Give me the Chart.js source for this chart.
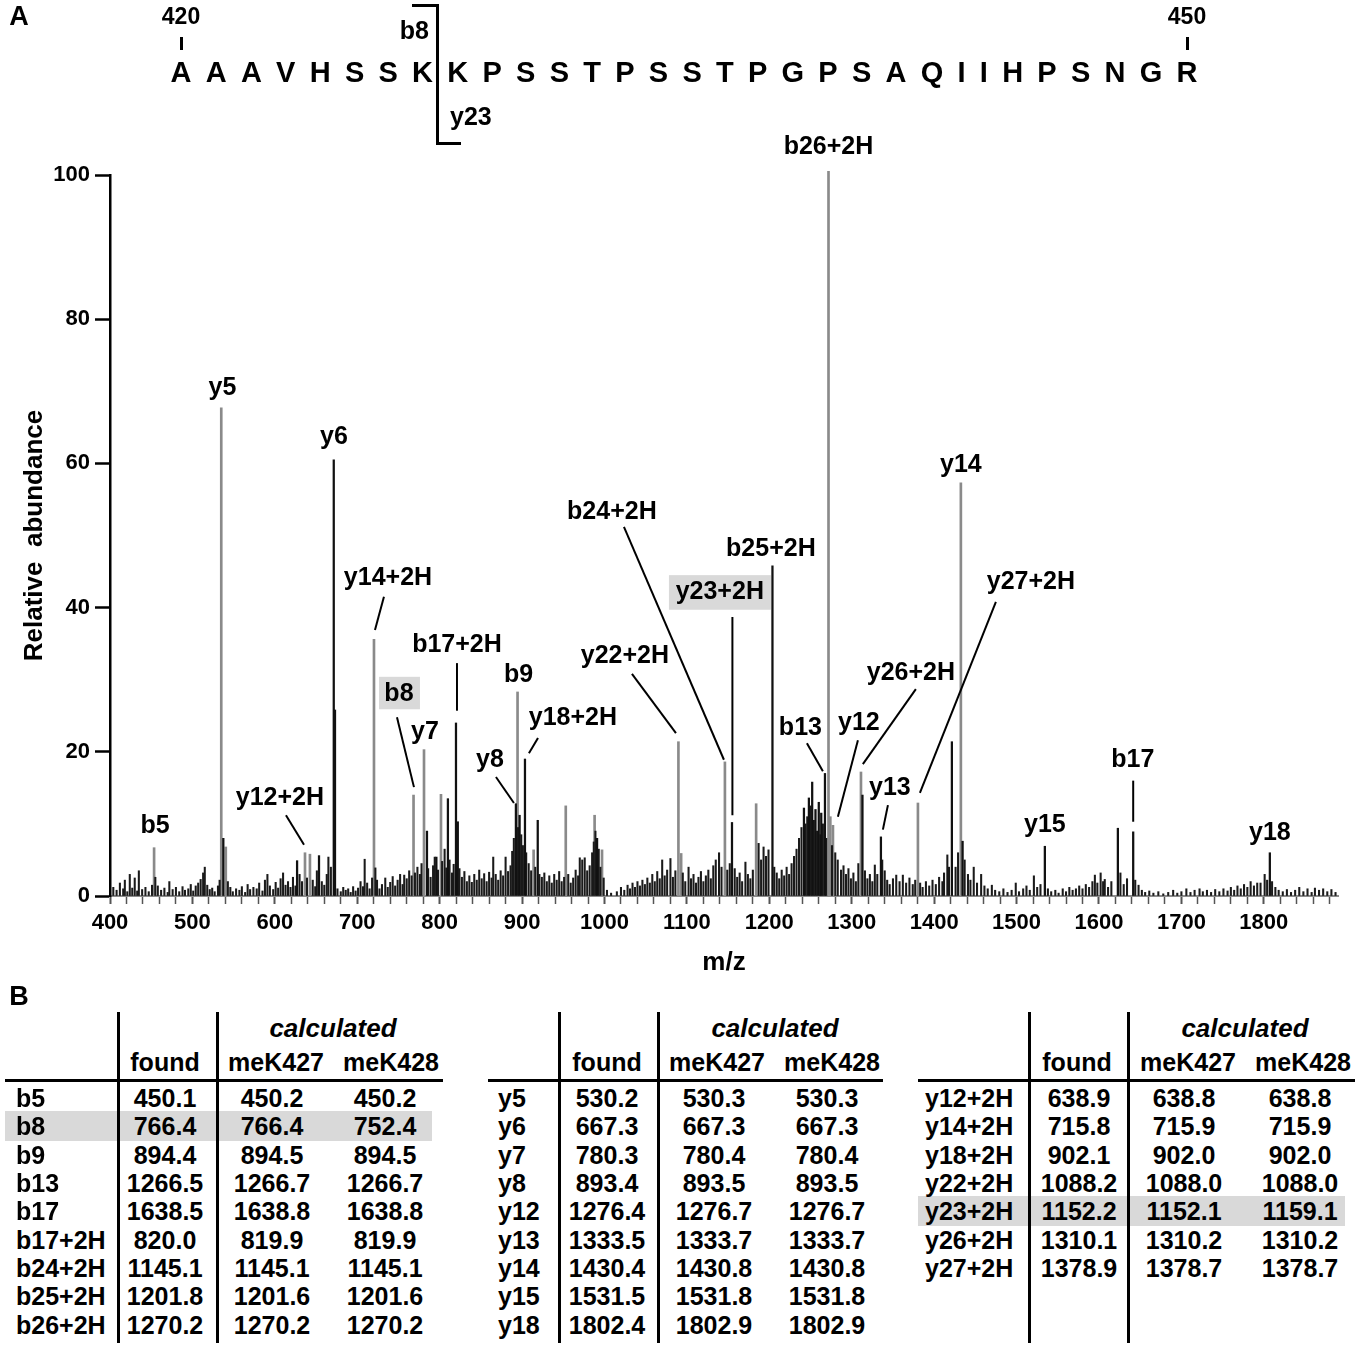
<!DOCTYPE html>
<html>
<head>
<meta charset="utf-8">
<script src="https://cdn.jsdelivr.net/npm/chart.js@4.4.1/dist/chart.umd.min.js"></script>
<style>
  body { margin: 0; background: #fff; }
  #wrap { position: relative; width: 1358px; height: 1345px; overflow: hidden;
          font-family: "Liberation Sans", Arial, sans-serif; font-weight: bold; color: #000; }
  #spec { position: absolute; left: 0; top: 0; }
  .c { position: absolute; white-space: pre; line-height: 1; transform: translate(-50%, -50%); }
  .l { position: absolute; white-space: pre; line-height: 1; transform: translateY(-50%); }
  .r { position: absolute; white-space: pre; line-height: 1; transform: translate(-100%, -50%); }
  .ln { position: absolute; background: #000; }
  .hl { position: absolute; background: #d9d9d9; }
</style>
</head>
<body>
<div id="wrap">
  <canvas id="spec" width="1358" height="990" style="width:1358px;height:990px"></canvas>
</div>
<script>
// peptide 420-450
const sequence = ['A','A','A','V','H','S','S','K','K','P','S','S','T','P','S','S','T','P','G','P','S','A','Q','I','I','H','P','S','N','G','R'];
const seqStart = 420, seqEnd = 450;

// labelled / prominent peaks (m/z, relative abundance), grey sticks
const grayMz = [453.5, 535, 540.5, 636.6, 642.6, 720.3, 768.3, 781, 801.6, 894.5, 914, 953, 988, 997,
                1089.7, 1093, 1146.1, 1184, 1271.8, 1274, 1277.2, 1311.2, 1380.3, 1432.4];
const grayAb = [6.7, 67.7, 6.8, 6.0, 5.8, 35.6, 14.0, 20.3, 14.1, 28.3, 6.4, 12.5, 11.2, 6.4,
                21.4, 5.9, 18.6, 12.8, 100.5, 11.0, 9.8, 17.2, 12.9, 57.3];

// prominent peaks drawn black
const blackMz = [537.5, 627, 653.6, 671.5, 673, 784.6, 796, 810, 819.8, 822, 892.5, 897, 903.5, 919, 991,
                 1154.7, 1203.8, 1242, 1248, 1252, 1256, 1260, 1263, 1267.5, 1313, 1335.4, 1421.5, 1434.5,
                 1534.3, 1622.9, 1641.5, 1807.3];
const blackAb = [8.0, 4.9, 5.6, 60.5, 25.8, 9.0, 5.4, 13.5, 24.0, 10.3, 12.8, 11.2, 19.0, 10.5, 8.0,
                 10.2, 45.8, 12.2, 13.6, 15.8, 12.0, 13.0, 11.5, 17.0, 14.0, 8.2, 21.4, 7.6,
                 6.9, 9.4, 8.9, 6.0];

// baseline noise, [m/z, abundance]
const noise400 = [[404,1.2],[408,0.8],[412,1.8],[416,1.0],[418,2.2],[421,0.6],[424,3.0],[427,1.1],[430,2.5],[433,0.7],
  [435,3.5],[439,0.9],[443,1.2],[447,0.6],[451,1.5],[455,2.6],[458,1.4],[462,0.8],[466,1.1],[470,0.5],[472,2.0],
  [476,0.9],[480,1.2],[484,0.6],[488,1.3],[491,0.8],[495,1.0],[498,1.6],[501,0.7],[504,1.4],[507,1.8],[510,2.3],
  [513,3.2],[515,4.0],[518,1.5],[521,0.9],[524,1.1],[527,0.6],[531,1.4],[533,2.2],[543,2.0],[546,1.2],[549,0.6],
  [553,1.0],[557,0.8],[560,1.3],[564,0.5],[567,1.6],[570,0.9],[574,1.2],[578,1.0],[581,1.8],[585,0.7],[588,2.2],
  [591,3.0],[594,1.4],[598,0.9],[601,1.9],[604,1.1],[607,2.4],[610,3.2],[613,1.5],[616,2.0],[619,1.2],[622,2.6],
  [625,1.4],[630,3.0],[633,2.0],[639,2.5],[646,2.2],[649,1.3],[651,3.5],[657,2.0],[660,1.5],[663,3.0],[665,5.4],
  [668,4.0],[676,1.0],[680,0.6],[683,1.2],[686,0.8],[689,1.0],[692,0.5],[695,1.3],[698,0.7]];
const noise700 = [[701,1.1],[704,2.0],[707,1.3],[709,5.1],[712,1.8],[715,1.0],[718,2.5],[722,3.9],[724,2.2],[727,1.0],
  [730,1.6],[734,2.5],[737,1.2],[740,1.9],[743,2.7],[746,1.4],[749,2.2],[752,3.0],[755,1.6],[757,2.9],[760,2.4],
  [763,3.5],[766,2.8],[770,3.2],[773,4.0],[776,3.0],[778,4.5],[786,3.8],[789,2.6],[792,4.2],[794,5.4],[798,3.6],
  [803,4.8],[806,6.5],[808,3.9],[812,5.0],[815,3.2],[817,4.4],[824,3.8],[827,2.6],[830,3.4],[833,2.0],[836,2.8],
  [839,1.9],[842,3.0],[845,2.2],[848,3.6],[851,2.4],[854,3.1],[857,2.0],[860,3.3],[863,2.5],[865,5.4],[868,3.0],
  [871,2.2],[874,3.5],[877,2.8],[880,5.4],[883,3.4],[886,4.2],[888,6.2],[890,8.0],[895,9.5],[899,8.5],[901,7.0],
  [905,6.0],[908,4.5],[911,3.5],[916,4.0],[921,3.0],[924,2.6],[927,3.2],[930,2.0],[933,2.8],[936,1.8],[939,3.0],
  [942,2.2],[945,3.4],[948,2.0],[951,2.6],[956,3.0],[959,1.8],[962,2.5],[965,3.6],[968,2.8],[970,5.3],[973,5.0],
  [976,5.3],[979,3.5],[982,4.2],[985,6.0],[987,7.5],[989,9.0],[993,6.5],[995,4.0],[999,2.5]];
const noise1000 = [[1003,0.8],[1008,0.4],[1015,0.6],[1020,1.2],[1024,0.8],[1028,1.5],[1031,1.0],[1034,1.8],[1037,1.2],
  [1040,2.0],[1043,1.4],[1046,2.2],[1049,1.6],[1052,2.5],[1055,1.8],[1058,3.0],[1061,2.0],[1064,3.4],[1067,2.4],
  [1070,5.0],[1073,2.8],[1076,3.6],[1080,5.2],[1083,2.6],[1086,3.5],[1095,3.2],[1098,2.0],[1102,4.0],[1105,2.4],
  [1108,3.0],[1111,1.8],[1114,2.6],[1117,3.4],[1120,2.0],[1123,2.8],[1126,3.6],[1129,2.4],[1132,4.2],[1135,5.0],
  [1139,6.0],[1142,4.0],[1149,3.6],[1152,4.5],[1158,3.8],[1161,2.6],[1164,3.2],[1167,2.0],[1171,4.7],[1174,3.0],
  [1177,2.4],[1180,3.6],[1187,7.3],[1190,5.0],[1193,6.8],[1196,5.5],[1199,6.4],[1206,4.0],[1209,3.2],[1212,2.4],
  [1215,3.6],[1218,2.8],[1221,4.0],[1224,3.0],[1227,4.5],[1230,5.5],[1233,6.5],[1236,8.0],[1239,9.5],[1244,10.0],
  [1246,11.0],[1250,12.5],[1254,10.5],[1258,9.0],[1262,8.5],[1265,10.0],[1269,8.0],[1276,7.0],[1280,6.0],[1283,5.0],
  [1287,3.6],[1290,4.2],[1293,3.0],[1296,3.8],[1299,2.4]];
const noise1300 = [[1302,3.2],[1305,2.0],[1308,4.5],[1316,3.5],[1319,2.4],[1322,3.0],[1325,2.0],[1328,4.3],[1331,3.0],
  [1337,5.0],[1340,3.5],[1343,2.2],[1346,1.6],[1350,2.4],[1354,2.9],[1358,2.0],[1362,2.9],[1366,1.8],[1370,2.5],
  [1374,1.6],[1377,2.2],[1383,1.8],[1386,1.2],[1390,2.0],[1394,1.4],[1398,2.2],[1402,1.6],[1406,2.6],[1410,2.0],
  [1412,3.2],[1416,5.7],[1418,4.0],[1426,4.0],[1429,6.0],[1437,5.0],[1441,3.0],[1444,2.2],[1448,4.0],[1452,1.8],
  [1457,3.0],[1461,1.4],[1465,1.0],[1470,1.5],[1474,0.8],[1479,0.6],[1484,1.0],[1489,0.5],[1494,0.8],[1499,1.8],
  [1503,0.6],[1508,1.0],[1512,1.4],[1516,0.8],[1521,2.8],[1525,1.2],[1529,1.6],[1538,1.0],[1542,0.6],[1547,0.8],
  [1551,0.4],[1556,1.0],[1560,0.6],[1564,1.2],[1568,0.8],[1572,1.0],[1576,1.4],[1580,1.0],[1584,1.6],[1588,1.2],
  [1592,2.0],[1595,2.9],[1598,1.8],[1602,3.2],[1605,2.0],[1607,2.3],[1611,1.2],[1615,2.0],[1626,3.2],[1630,1.6],
  [1634,2.4],[1644,2.2],[1648,1.5],[1652,0.8],[1656,0.5],[1661,0.7],[1666,0.4],[1672,0.6],[1678,0.3],[1684,0.5],
  [1690,0.8],[1695,0.4],[1700,0.6],[1706,1.0],[1711,0.5],[1716,0.8],[1722,1.0],[1726,0.6],[1731,0.8],[1736,0.5],
  [1741,0.9],[1746,0.6],[1751,1.0],[1756,0.7],[1760,1.2],[1764,0.8],[1768,1.4],[1772,1.0],[1776,1.6],[1780,1.2],
  [1784,2.0],[1788,1.4],[1792,1.8],[1796,1.8],[1801,3.0],[1804,2.2],[1810,2.0],[1814,1.2],[1818,0.8],[1823,0.6],
  [1828,0.9],[1833,0.5],[1838,0.8],[1843,1.2],[1848,0.6],[1853,1.0],[1858,0.5],[1862,1.1],[1867,0.8],[1872,1.0],
  [1877,0.6],[1882,0.9],[1887,0.5]];

// fragment labels: text, m/z, abundance of label centre
const peakLabels = [
  ['b5',454.6,9.7], ['y5',536.5,70.5], ['y12+2H',606.2,13.6], ['y6',671.8,63.7], ['y14+2H',737.3,44.1],
  ['b8',750.6,28.0], ['y7',782.2,22.7], ['b17+2H',821.0,34.8], ['b9',895.7,30.7], ['y18+2H',961.7,24.7],
  ['y8',861.0,18.9], ['y22+2H',1024.8,33.3], ['b24+2H',1009.0,53.3], ['y23+2H',1139.9,42.2],
  ['b25+2H',1201.9,48.1], ['b26+2H',1271.8,103.9], ['b13',1237.7,23.3], ['y12',1308.7,24.0],
  ['y26+2H',1371.8,30.9], ['y13',1346.3,15.0], ['y27+2H',1517.4,43.6], ['y14',1432.4,59.8],
  ['y15',1534.3,9.8], ['b17',1641.1,18.9], ['y18',1807.3,8.7]
];
const leaderLines = [
  [613.5,11.2,635.4,7.1], [732.4,41.5,721.5,36.9], [748.2,24.8,768.8,15.1], [821,32.3,821,25.7],
  [919.3,21.9,908.3,19.8], [868.3,16.5,890.1,12.9], [1033.3,30.8,1086.7,22.6], [1023.6,51.2,1144.9,18.9],
  [1155.2,38.7,1155.2,11.2], [1245.6,21.2,1265.0,17.3], [1307.5,21.6,1283.2,11.0], [1377.8,28.7,1313.5,18.3],
  [1343.9,12.6,1337.8,9.2], [1474.9,40.8,1382.7,14.3], [1641.5,16.0,1641.5,10.3]
];
const highlightBoxes = [[726.4,30.4,776.1,25.9], [1078.2,44.5,1201.9,39.7]];

// table B
const bIons = ['b5','b8','b9','b13','b17','b17+2H','b24+2H','b25+2H','b26+2H'];
const bFound = [450.1, 766.4, 894.4, 1266.5, 1638.5, 820.0, 1145.1, 1201.8, 1270.2];
const bMeK427 = [450.2, 766.4, 894.5, 1266.7, 1638.8, 819.9, 1145.1, 1201.6, 1270.2];
const bMeK428 = [450.2, 752.4, 894.5, 1266.7, 1638.8, 819.9, 1145.1, 1201.6, 1270.2];
const yIons = ['y5','y6','y7','y8','y12','y13','y14','y15','y18'];
const yFound = [530.2, 667.3, 780.3, 893.4, 1276.4, 1333.5, 1430.4, 1531.5, 1802.4];
const yMeK427 = [530.3, 667.3, 780.4, 893.5, 1276.7, 1333.7, 1430.8, 1531.8, 1802.9];
const yMeK428 = [530.3, 667.3, 780.4, 893.5, 1276.7, 1333.7, 1430.8, 1531.8, 1802.9];
const y2Ions = ['y12+2H','y14+2H','y18+2H','y22+2H','y23+2H','y26+2H','y27+2H'];
const y2Found = [638.9, 715.8, 902.1, 1088.2, 1152.2, 1310.1, 1378.9];
const y2MeK427 = [638.8, 715.9, 902.0, 1088.0, 1152.1, 1310.2, 1378.7];
const y2MeK428 = [638.8, 715.9, 902.0, 1088.0, 1159.1, 1310.2, 1378.7];

const FONT = '"Liberation Sans", Arial, sans-serif';
Chart.defaults.font.family = FONT;
Chart.defaults.font.weight = 'bold';
Chart.defaults.color = '#000';

const toPoints = (xs, ys) => xs.map((v, i) => ({ x: v, y: ys[i] }));
const noise = [].concat(noise400, noise700, noise1000, noise1300).map(p => ({ x: p[0], y: p[1] }));

const annotate = {
  id: 'annotate',
  afterDatasetsDraw(chart) {
    const { ctx, scales: { x, y } } = chart;
    ctx.save();
    ctx.fillStyle = '#d9d9d9';
    highlightBoxes.forEach(b => {
      const x1 = x.getPixelForValue(b[0]), y1 = y.getPixelForValue(b[1]);
      const x2 = x.getPixelForValue(b[2]), y2 = y.getPixelForValue(b[3]);
      ctx.fillRect(x1, y1, x2 - x1, y2 - y1);
    });
    ctx.strokeStyle = '#000';
    ctx.lineWidth = 2;
    leaderLines.forEach(l => {
      ctx.beginPath();
      ctx.moveTo(x.getPixelForValue(l[0]), y.getPixelForValue(l[1]));
      ctx.lineTo(x.getPixelForValue(l[2]), y.getPixelForValue(l[3]));
      ctx.stroke();
    });
    ctx.fillStyle = '#000';
    ctx.font = 'bold 25px ' + FONT;
    ctx.textAlign = 'center';
    ctx.textBaseline = 'middle';
    peakLabels.forEach(p => ctx.fillText(p[0], x.getPixelForValue(p[1]), y.getPixelForValue(p[2])));
    ctx.restore();
  }
};

new Chart(document.getElementById('spec'), {
  type: 'bar',
  data: {
    datasets: [
      { data: toPoints(blackMz, blackAb), backgroundColor: '#111', barThickness: 1.6, grouped: false, order: 0, clip: false },
      { data: noise, backgroundColor: '#1a1a1a', barThickness: 1.4, grouped: false, order: 1, clip: false },
      { data: toPoints(grayMz, grayAb), backgroundColor: '#8a8a8a', barThickness: 2, grouped: false, order: 2, clip: false }
    ]
  },
  options: {
    responsive: false,
    animation: false,
    layout: { padding: { top: 175, right: 20, left: 0, bottom: 0 } },
    plugins: { legend: { display: false }, tooltip: { enabled: false } },
    scales: {
      x: {
        type: 'linear', min: 400, max: 1890, offset: false,
        afterFit: s => { s.height = 94; },
        grid: { drawOnChartArea: false, offset: false, tickLength: 8, tickColor: '#555',
                tickWidth: c => (c.tick && c.tick.value % 100 === 0 ? 2 : 1.5) },
        border: { color: '#8c8c8c', width: 2 },
        ticks: { stepSize: 20, autoSkip: false, includeBounds: false, maxRotation: 0, padding: 6,
                 font: { size: 22, weight: 'bold' },
                 callback: v => (v % 100 === 0 ? String(v) : '') },
        title: { display: true, text: 'm/z', font: { size: 26, weight: 'bold' }, padding: { top: 0, bottom: 12 } }
      },
      y: {
        min: 0, max: 100,
        afterFit: s => { s.width = 110; },
        grid: { drawOnChartArea: false, tickLength: 15, tickColor: '#000', tickWidth: 2.5 },
        border: { color: '#000', width: 2.5 },
        ticks: { stepSize: 20, padding: 5, font: { size: 22, weight: 'bold' } },
        title: { display: true, text: 'Relative  abundance', font: { size: 26, weight: 'bold' }, padding: { top: 19, bottom: 0 } }
      }
    }
  },
  plugins: [annotate]
});

// --- text parts around the chart ---
const wrap = document.getElementById('wrap');
function put(cls, text, left, top, size, extra) {
  const d = document.createElement('div');
  d.className = cls;
  d.textContent = text;
  d.style.left = left + 'px';
  d.style.top = top + 'px';
  d.style.fontSize = size + 'px';
  if (extra) Object.assign(d.style, extra);
  wrap.appendChild(d);
  return d;
}
function rect(cls, left, top, w, h) {
  const d = document.createElement('div');
  d.className = cls;
  Object.assign(d.style, { left: left + 'px', top: top + 'px', width: w + 'px', height: h + 'px' });
  wrap.appendChild(d);
}

put('c', 'A', 19, 16, 27);
put('c', 'B', 19, 996, 27);

// sequence: proportional spacing, first residue at x=181, last at x=1187
const seqFont = 29, seqFirst = 181, seqLast = 1187;
const mctx = document.createElement('canvas').getContext('2d');
mctx.font = 'bold ' + seqFont + 'px ' + FONT;
const widths = sequence.map(ch => mctx.measureText(ch).width);
let halfSum = 0;
for (let i = 0; i < widths.length - 1; i++) halfSum += (widths[i] + widths[i + 1]) / 2;
const gap = (seqLast - seqFirst - halfSum) / (sequence.length - 1);
let cx = seqFirst;
sequence.forEach((ch, i) => {
  put('c', ch, cx, 72, seqFont);
  if (i < sequence.length - 1) cx += (widths[i] + widths[i + 1]) / 2 + gap;
});
put('c', String(seqStart), seqFirst, 16, 23);
put('c', String(seqEnd), seqLast, 16, 23);
rect('ln', seqFirst - 1, 37, 2.5, 13);
rect('ln', seqLast - 1, 37, 2.5, 13);
// cleavage bracket
rect('ln', 412, 4, 26, 2.5);
rect('ln', 436, 4, 2.5, 141);
rect('ln', 436, 142, 25, 2.5);
put('r', 'b8', 429, 30, 25);
put('l', 'y23', 450, 116, 25);

// tables
const tables = [
  { ions: bIons, found: bFound, c427: bMeK427, c428: bMeK428, label: 16, cols: [165, 272, 385],
    heads: [165, 276, 391], calc: 333, v: [117, 216], h: [5, 443], hl: [1, 5, 432] },
  { ions: yIons, found: yFound, c427: yMeK427, c428: yMeK428, label: 498, cols: [607, 714, 827],
    heads: [607, 717, 832], calc: 775, v: [558, 657], h: [488, 883], hl: null },
  { ions: y2Ions, found: y2Found, c427: y2MeK427, c428: y2MeK428, label: 925, cols: [1079, 1184, 1300],
    heads: [1077, 1188, 1303], calc: 1245, v: [1028, 1127], h: [918, 1355], hl: [4, 918, 1345] }
];
const rowTop = 1098, rowStep = 28.35;
tables.forEach(t => {
  if (t.hl) rect('hl', t.hl[1], rowTop + t.hl[0] * rowStep - 15, t.hl[2] - t.hl[1], 30);
  rect('ln', t.v[0], 1012, 2.5, 331);
  rect('ln', t.v[1], 1012, 2.5, 331);
  rect('ln', t.h[0], 1078.5, t.h[1] - t.h[0], 3);
  put('c', 'calculated', t.calc, 1028, 26, { fontStyle: 'italic' });
  put('c', 'found', t.heads[0], 1062, 25);
  put('c', 'meK427', t.heads[1], 1062, 25);
  put('c', 'meK428', t.heads[2], 1062, 25);
  t.ions.forEach((ion, i) => {
    const yy = rowTop + i * rowStep;
    put('l', ion, t.label, yy, 25);
    put('c', t.found[i].toFixed(1), t.cols[0], yy, 25);
    put('c', t.c427[i].toFixed(1), t.cols[1], yy, 25);
    put('c', t.c428[i].toFixed(1), t.cols[2], yy, 25);
  });
});
</script>
</body>
</html>
